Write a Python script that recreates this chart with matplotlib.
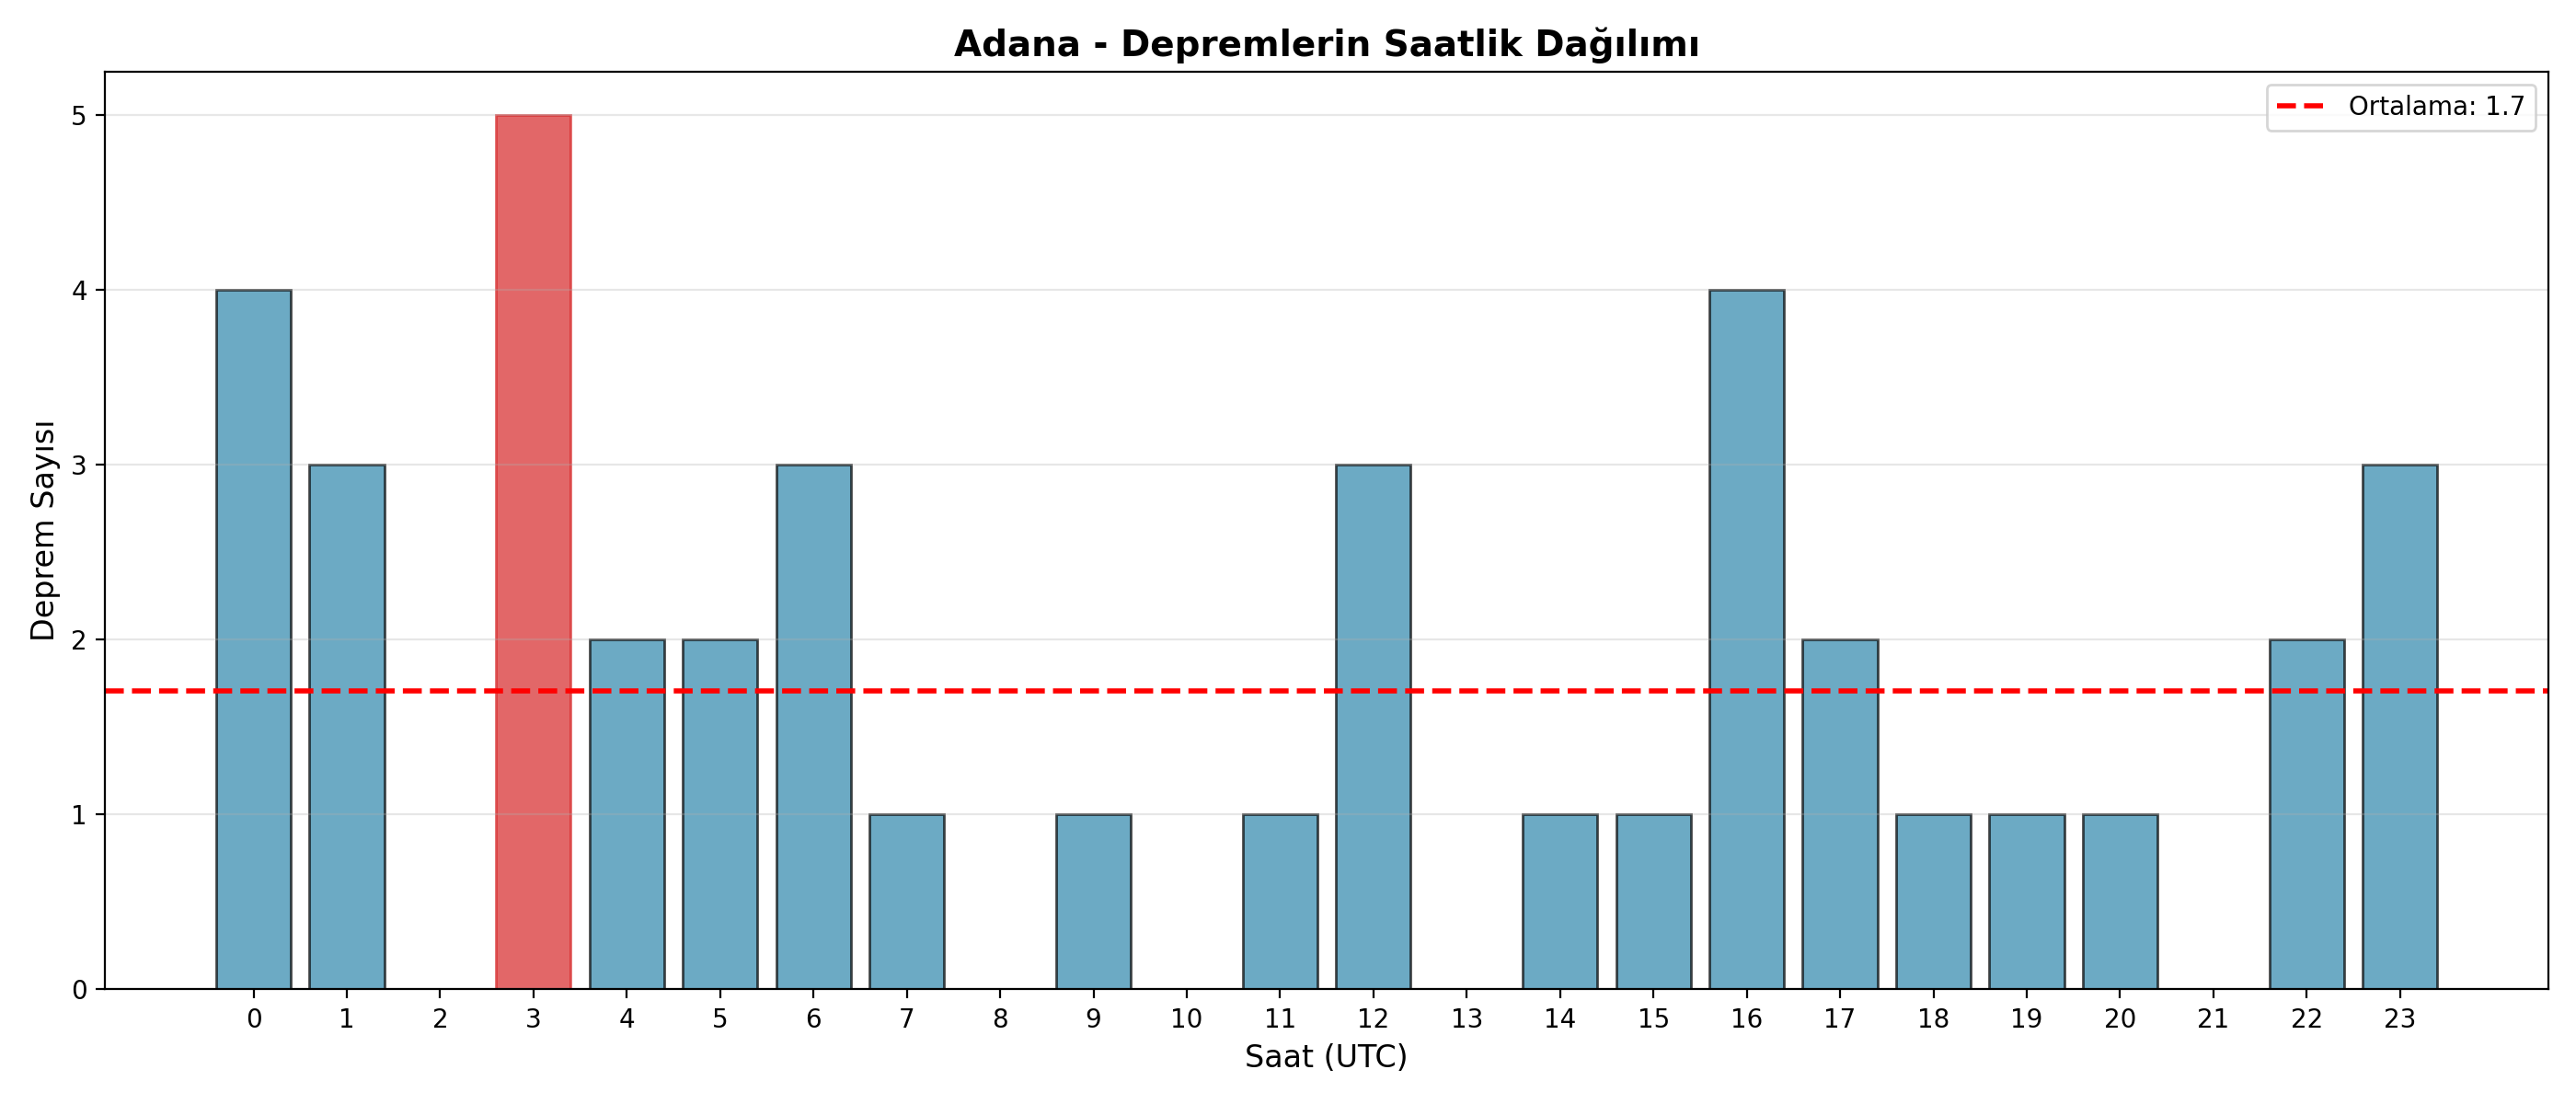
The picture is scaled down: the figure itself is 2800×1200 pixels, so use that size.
import matplotlib

matplotlib.use("Agg")
import matplotlib.pyplot as plt
import numpy as np

city = "Adana"
hours = list(range(24))
counts = [4, 3, 0, 5, 2, 2, 3, 1, 0, 1, 0, 1, 3, 0, 1, 1, 4, 2, 1, 1, 1, 0, 2, 3]

mean_count = np.mean(counts)

fig, ax = plt.subplots(figsize=(14, 6))
bars = ax.bar(hours, counts, color="#2E86AB", edgecolor="black", alpha=0.7)

# en yogun saati vurgula
peak = int(np.argmax(counts))
bars[peak].set_color("#d62728")

ax.axhline(mean_count, color="red", linestyle="--", linewidth=2,
           label=f"Ortalama: {mean_count:.1f}")

ax.set_xlabel("Saat (UTC)", fontsize=12)
ax.set_ylabel("Deprem Sayısı", fontsize=12)
ax.set_title(f"{city} - Depremlerin Saatlik Dağılımı", fontsize=14, fontweight="bold")
ax.set_xticks(hours)
ax.legend()
ax.grid(True, axis="y", alpha=0.3)

fig.tight_layout()
fig.savefig("out.png", dpi=200)
plt.close(fig)
